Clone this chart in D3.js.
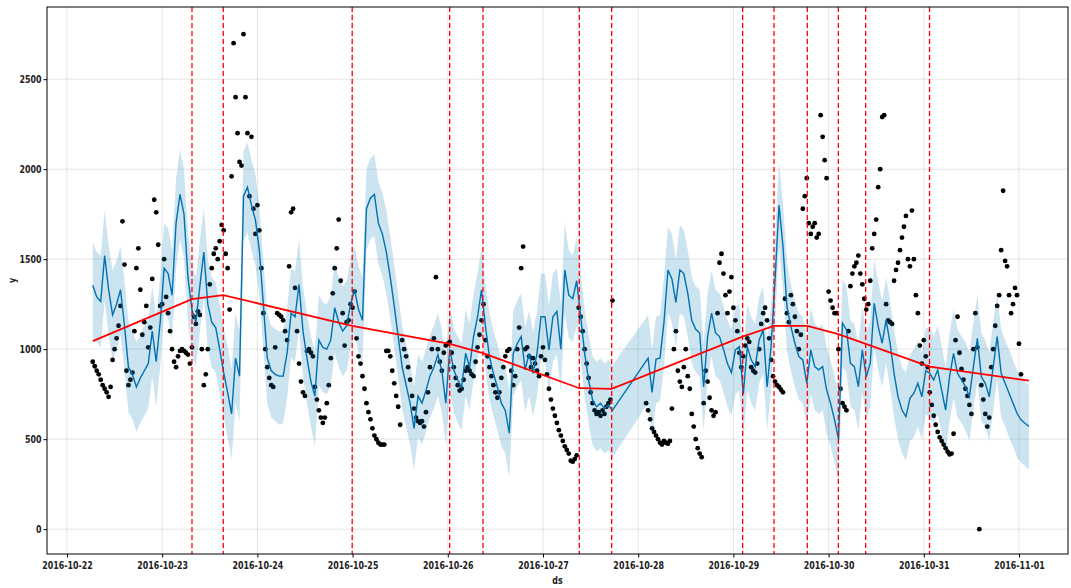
<!DOCTYPE html>
<html><head><meta charset="utf-8">
<script src="https://cdn.jsdelivr.net/npm/d3@7"></script>
<style>
body{margin:0;background:#fff}
text{font-family:"DejaVu Sans",sans-serif;font-weight:bold;font-size:11px;fill:#222}
</style>
</head><body>
<svg id="chart" width="1071" height="588"></svg>
<script>
// ---- data ----
const seriesStart = "2016-10-22 06:30";   // first forecast / observation timestamp
const yhatStepMinutes = 60;
const obsStepMinutes = 30;

// forecast yhat, hourly (null = no forecast row, gap in history)
const yhat = [
 1355,1290,1265,1520,1330,1190,1250,1330,1130,900,860,790,840,880,920,1100,930,1150,
 1450,1420,1300,1700,1860,1750,1400,1220,1150,1350,1540,1250,1150,1120,1000,870,760,640,950,850,1850,1900,1800,1720,
 1550,1250,950,880,860,850,850,980,1200,1180,1360,1100,950,820,740,1050,1010,1000,1050,1230,1150,1100,1130,1250,
 1330,1220,1160,1780,1840,1860,1700,1640,1540,1400,1240,1070,900,800,700,560,740,700,770,850,900,970,880,700,
 1000,885,830,790,977,900,1070,1180,1330,1125,960,866,790,700,660,533,977,1030,1070,885,977,866,977,1180,
 1180,996,1180,1210,1000,1440,1300,1280,1380,1180,977,829,718,680,700,670,690,660,
 null,null,null,null,null,null,null,null,
 950,760,945,950,1150,1440,1390,1260,1440,1420,1310,1160,1110,1090,790,1070,1200,1090,1070,1000,920,870,
 996,1014,750,1014,940,903,1051,1107,790,1014,1385,1800,1570,1236,1125,1033,959,940,810,996,903,885,903,773,
 699,607,500,1144,1107,922,903,792,996,847,922,1255,1125,1033,1162,1033,866,736,662,625,727,755,811,736,
 880,866,829,885,773,662,847,977,866,829,792,736,903,1060,847,810,736,903,1070,866,810,755,699,644,607,588,570
];
const yhatUpper = [
 1590,1540,1520,1770,1580,1440,1490,1570,1380,1150,1100,1040,1080,1130,1170,1350,1180,1400,
 1700,1670,1550,1950,2110,2000,1650,1470,1400,1600,1790,1500,1400,1370,1250,1120,1010,890,1200,1100,2100,2150,2050,1970,
 1800,1500,1200,1130,1110,1100,1100,1230,1450,1430,1610,1350,1200,1070,990,1300,1260,1250,1300,1480,1400,1350,1380,1500,
 1570,1460,1400,2000,2060,2080,1930,1870,1770,1630,1470,1300,1130,1030,930,790,970,930,1000,1080,1130,1200,1110,930,
 1240,1120,1070,1030,1220,1140,1310,1420,1560,1360,1200,1100,1030,940,900,770,1210,1270,1310,1120,1210,1100,1210,1420,
 1420,1240,1420,1450,1250,1700,1550,1520,1620,1430,1220,1080,960,930,950,920,940,910,
 null,null,null,null,null,null,null,null,
 1190,1000,1180,1190,1400,1680,1640,1500,1690,1660,1550,1400,1350,1330,1030,1310,1440,1330,1310,1240,1160,1110,
 1240,1250,990,1250,1180,1140,1290,1350,1030,1250,1620,2040,1810,1480,1360,1270,1200,1180,1050,1230,1140,1120,1140,1010,
 940,850,740,1390,1350,1160,1140,1030,1240,1090,1160,1500,1370,1270,1400,1270,1110,980,900,870,970,1000,1050,980,
 1120,1110,1070,1130,1020,900,1090,1220,1110,1070,1040,980,1150,1300,1090,1050,980,1150,1310,1110,1050,1000,940,880,850,820,800
];
const yhatLower = [
 1060,1040,1010,1270,1080,940,1000,1080,880,650,610,540,590,630,670,850,680,900,
 1200,1170,1050,1450,1610,1500,1150,970,900,1100,1290,1000,900,870,750,620,510,390,700,600,1600,1650,1550,1470,
 1300,1000,700,620,600,580,590,730,950,930,1110,850,700,570,460,800,760,750,800,980,900,850,880,1000,
 1090,980,920,1550,1610,1630,1470,1410,1310,1170,1010,840,670,570,470,330,510,470,540,620,670,740,650,470,
 760,650,590,550,740,660,830,940,1090,890,720,630,550,460,420,290,740,790,830,650,740,630,740,940,
 940,750,930,970,760,1200,1060,1040,1130,940,730,590,470,430,450,420,440,400,
 null,null,null,null,null,null,null,null,
 700,510,700,710,900,1200,1150,1010,1200,1180,1070,920,870,850,550,830,960,850,830,760,680,630,
 750,770,510,770,700,660,810,860,550,770,1140,1560,1330,990,880,790,720,700,570,750,660,640,660,530,
 460,370,260,900,870,680,660,550,760,610,680,1010,880,790,920,790,620,500,420,380,490,510,570,500,
 640,620,590,640,530,420,600,730,620,590,550,490,660,820,600,570,490,660,830,620,570,510,460,400,370,350,330
];

// observed y, every 30 minutes (null = missing)
const observed = [
 930,905,880,860,830,800,780,760,735,790,940,1000,1060,1130,1240,1710,1470,880,800,830,870,1100,1450,1560,1330,1080,1150,1240,1010,1120,1390,1830,1760,1580,1240,
 1250,1500,1290,1200,1100,1000,930,900,960,990,1000,990,980,970,920,1010,1180,1140,1210,1190,1000,800,860,1000,1360,1450,1530,1560,1500,1600,1690,1660,1530,1450,1220,1960,2700,2400,2200,2040,2020,2750,2400,2200,1850,2180,1780,1640,
 1800,1660,1450,1200,1000,900,840,800,790,1010,1200,1190,1180,1160,1100,1050,1460,1760,1780,1340,1100,920,820,760,740,990,1000,980,960,790,720,660,620,590,620,700,800,950,1310,1450,1560,1720,1380,1200,1020,1150,1160,1250,
 1230,1320,1060,960,920,850,780,700,650,610,560,520,500,480,470,470,470,990,990,960,880,810,740,680,580,1050,1000,960,900,830,740,670,620,600,590,600,570,650,760,900,1000,1060,1400,1000,930,880,980,1020,
 1030,1040,980,900,840,800,770,780,830,880,900,880,860,850,930,1010,1080,1160,1250,1050,960,900,850,800,760,730,760,840,900,960,990,1000,880,800,850,1000,1120,1450,1570,1000,1010,960,900,950,920,880,850,960,
 1010,940,860,780,720,670,630,590,550,520,490,460,440,420,380,375,390,410,1230,1180,1100,1000,920,840,760,700,660,640,650,630,660,640,680,700,720,1270,
 null,null,null,null,null,null,null,null,null,null,null,null,null,null,null,null,
 700,660,610,560,540,520,500,480,470,490,480,475,490,670,1000,1100,880,820,790,900,1000,850,780,640,570,500,450,420,400,700,880,820,730,660,630,650,1200,1480,1530,1420,1300,1200,1320,1400,
 1230,1160,1100,980,900,960,1020,1060,1040,900,880,870,920,1000,1140,1200,1230,1160,1060,940,850,820,800,790,775,760,1280,1200,1150,1300,1250,1180,1100,1000,1080,1780,1850,1950,1700,1640,1680,1700,1620,1640,2300,2180,2050,1950,
 1320,1270,1230,1200,1200,1000,780,700,680,660,1100,1350,1420,1460,1480,1520,1420,1360,1280,1220,1250,1380,1560,1640,1720,1900,2000,2290,2300,1250,1160,1150,1140,1380,1440,1480,1550,1620,1680,1740,1500,1460,1770,1500,1300,1200,1020,920,
 1050,960,900,760,690,630,580,540,510,490,470,450,430,415,420,530,1050,1180,980,890,830,780,740,690,640,1000,1200,1010,0,800,720,640,570,620,900,1000,1130,1240,1300,1550,1880,1490,1460,1300,1200,1250,1340,1300,
 1030,860
];

// trend (piecewise linear, knots at start, changepoints, end)
const trendDates = ["2016-10-22 06:30","2016-10-23 07:31","2016-10-23 15:24","2016-10-24 23:54","2016-10-26 00:29","2016-10-26 08:52","2016-10-27 09:09","2016-10-27 17:19","2016-10-29 02:20","2016-10-29 10:14","2016-10-29 18:38","2016-10-30 02:27","2016-10-30 09:21","2016-10-31 01:26","2016-11-01 02:30"];
const trendValues = [1045,1278,1300,1130,1030,978,783,779,1070,1129,1129,1083,1029,903,825];

// significant changepoints
const changepoints = ["2016-10-23 07:31","2016-10-23 15:24","2016-10-24 23:54","2016-10-26 00:29","2016-10-26 08:52","2016-10-27 09:09","2016-10-27 17:19","2016-10-29 02:20","2016-10-29 10:14","2016-10-29 18:38","2016-10-30 02:27","2016-10-30 09:21","2016-10-31 01:26"];

const xTickLabels = ["2016-10-22","2016-10-23","2016-10-24","2016-10-25","2016-10-26","2016-10-27","2016-10-28","2016-10-29","2016-10-30","2016-10-31","2016-11-01"];
const yTicks = [0,500,1000,1500,2000,2500];

// ---- drawing ----
const parse = d3.timeParse("%Y-%m-%d %H:%M");
const parseDay = d3.timeParse("%Y-%m-%d");
const t0 = parse(seriesStart);
const L = 47, R = 1068, T = 7, B = 554;
const NARROW = 0.72;   // horizontal squeeze of the condensed label font

const x = d3.scaleTime()
  .domain([parse("2016-10-21 18:58"), parse("2016-11-01 12:21")])
  .range([L, R]);
const y = d3.scaleLinear().domain([-138, 2901]).range([B, T]);

const svg = d3.select("#chart");

const fc = yhat.map((v, i) => ({
  t: new Date(+t0 + i * yhatStepMinutes * 60000), v, lo: yhatLower[i], hi: yhatUpper[i]
})).filter(d => d.v !== null);
const obs = observed.map((v, i) => ({ t: new Date(+t0 + i * obsStepMinutes * 60000), v }))
  .filter(d => d.v !== null);

svg.append("defs").append("clipPath").attr("id", "pc")
  .append("rect").attr("x", L).attr("y", T).attr("width", R - L).attr("height", B - T);

// grid
const xDays = xTickLabels.map(parseDay);
const grid = svg.append("g");
grid.selectAll("line.gx").data(xDays).join("line")
  .attr("x1", d => x(d)).attr("x2", d => x(d)).attr("y1", T).attr("y2", B)
  .attr("stroke", "#808080").attr("stroke-opacity", 0.2).attr("stroke-width", 1);
grid.selectAll("line.gy").data(yTicks).join("line")
  .attr("x1", L).attr("x2", R).attr("y1", d => y(d)).attr("y2", d => y(d))
  .attr("stroke", "#808080").attr("stroke-opacity", 0.2).attr("stroke-width", 1);

const plot = svg.append("g").attr("clip-path", "url(#pc)");

// observations
plot.append("g").selectAll("circle").data(obs).join("circle")
  .attr("cx", d => x(d.t)).attr("cy", d => y(d.v)).attr("r", 2.4).attr("fill", "#000");

// forecast line
plot.append("path").datum(fc)
  .attr("d", d3.line().x(d => x(d.t)).y(d => y(d.v)))
  .attr("fill", "none").attr("stroke", "#0072B2").attr("stroke-width", 1.4);

// uncertainty band
plot.append("path").datum(fc)
  .attr("d", d3.area().x(d => x(d.t)).y0(d => y(d.lo)).y1(d => y(d.hi)))
  .attr("fill", "#0072B2").attr("fill-opacity", 0.2);

// trend
const trend = trendDates.map((d, i) => ({ t: parse(d), v: trendValues[i] }));
plot.append("path").datum(trend)
  .attr("d", d3.line().x(d => x(d.t)).y(d => y(d.v)))
  .attr("fill", "none").attr("stroke", "#ff0000").attr("stroke-width", 1.8);

// changepoints
plot.append("g").selectAll("line").data(changepoints.map(parse)).join("line")
  .attr("x1", d => x(d)).attr("x2", d => x(d)).attr("y1", T).attr("y2", B)
  .attr("stroke", "#ff0000").attr("stroke-width", 1.3).attr("stroke-dasharray", "5,3");

// axes
const xAxis = d3.axisBottom(x).tickValues(xDays).tickFormat(d3.timeFormat("%Y-%m-%d"))
  .tickSize(3.5).tickPadding(3.5);
const gx = svg.append("g").attr("transform", `translate(0,${B})`).call(xAxis);
gx.select(".domain").remove();
gx.selectAll("text").attr("font-size", 11).attr("transform", `scale(${NARROW},1)`);

const yAxis = d3.axisLeft(y).tickValues(yTicks).tickFormat(d3.format("d"))
  .tickSize(3.5).tickPadding(4);
const gy = svg.append("g").attr("transform", `translate(${L},0)`).call(yAxis);
gy.select(".domain").remove();
gy.selectAll("text").attr("font-size", 11).attr("transform", `scale(${NARROW},1)`);

// frame
svg.append("rect").attr("x", L).attr("y", T).attr("width", R - L).attr("height", B - T)
  .attr("fill", "none").attr("stroke", "#000").attr("stroke-width", 1);

// axis labels
svg.append("text").attr("transform", `translate(${(L + R) / 2},584) scale(${NARROW},1)`)
  .attr("text-anchor", "middle").text("ds");
svg.append("text").attr("transform", `translate(16,${(T + B) / 2}) rotate(-90) scale(${NARROW},1)`)
  .attr("text-anchor", "middle").text("y");
</script>
</body></html>
